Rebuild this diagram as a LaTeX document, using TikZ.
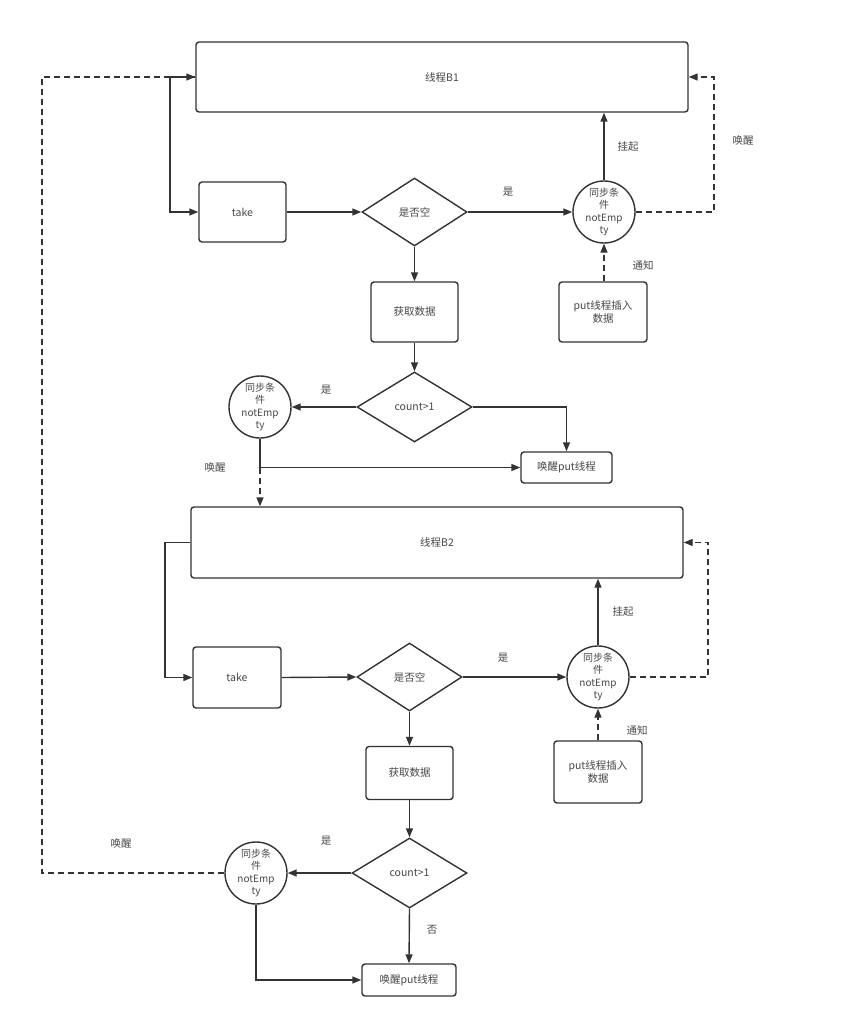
\documentclass[tikz,border=0pt]{standalone}
\usepackage{fontspec}
\setmainfont{Noto Sans CJK SC}
\usetikzlibrary{shapes.geometric,arrows.meta,calc}
\definecolor{ln}{HTML}{333333}
\begin{document}
\begin{tikzpicture}[x=1pt,y=-1pt,
  font=\fontsize{10.5}{12.5}\selectfont,
  every node/.style={text=ln!90},
  box/.style={draw=ln,line width=1.4pt,rounded corners=3pt,inner sep=0pt,fill=white},
  dia/.style={draw=ln,line width=1.4pt,diamond,inner sep=0pt,fill=white},
  cond/.style={draw=ln,line width=1.4pt,circle,minimum size=62pt,inner sep=0pt,align=center,font=\fontsize{10}{12.5}\selectfont},
  conn/.style={draw=ln,line width=1.4pt},
  arr/.style={conn,-{Triangle[length=9pt,width=7pt]}},
  dsh/.style={dash pattern=on 6pt off 4pt},
  lbl/.style={font=\fontsize{10.5}{12.5}\selectfont}
]
\useasboundingbox (0,0) rectangle (840,1024);
% ---------- block 1 ----------
\node[box,minimum width=492pt,minimum height=70pt] (B1) at (442,77) {线程B1};
\node[box,minimum width=87pt,minimum height=60pt] (take1) at (242.5,212) {take};
\node[dia,minimum width=105pt,minimum height=68pt] (d1) at (414.5,212) {是否空};
\node[cond] (c1) at (604,212) {同步条\\件\\notEmp\\ty};
\node[box,minimum width=88pt,minimum height=60pt,align=center] (put1) at (603,312) {put线程插入\\数据};
\node[box,minimum width=87pt,minimum height=60pt] (get1) at (414.5,312) {获取数据};
\node[dia,minimum width=115pt,minimum height=70pt] (cnt1) at (414.5,407) {count>1};
\node[cond] (c2) at (260,407) {同步条\\件\\notEmp\\ty};
\node[box,minimum width=91pt,minimum height=31pt] (wake1) at (566.5,467.5) {唤醒put线程};

\coordinate (l1) at (170,77);
\coordinate (r1) at (714,77);
\draw[arr] (B1.west) -- (l1) |- (take1.west);
\draw[arr] (take1.east) -- (d1.west);
\draw[arr] (d1.east) -- (c1.west);
\node[lbl] (y1) at (508,192) {是};
\draw[arr] (c1.north) -- (c1.north |- B1.south);
\node[lbl] (g1) at (628,147) {挂起};
\draw[arr,dsh] (c1.east) -| (r1) -- (B1.east);
\node[lbl] (w1) at (743,141) {唤醒};
\draw[arr,dsh] (put1.north -| c1) -- (c1.south);
\node[lbl] (t1) at (643,265) {通知};
\draw[arr] (d1.south) -- (get1.north);
\draw[arr] (get1.south) -- (cnt1.north);
\draw[arr] (cnt1.west) -- (c2.east);
\node[lbl] (y2) at (326,390) {是};
\draw[arr] (cnt1.east) -| (wake1.north);
\coordinate (j1) at (c2.south |- wake1.west);
\draw[arr] (c2.south) -- (j1) -- (wake1.west);
\node[lbl] (w2) at (215,467) {唤醒};

% ---------- block 2 ----------
\node[box,minimum width=492pt,minimum height=71pt] (B2) at (437,542.5) {线程B2};
\draw[arr,dsh] (j1) -- (j1 |- B2.north);
\node[box,minimum width=88pt,minimum height=61pt] (take2) at (237,677.5) {take};
\node[dia,minimum width=105pt,minimum height=68pt] (d2) at (409.5,677) {是否空};
\node[cond] (c3) at (598,677) {同步条\\件\\notEmp\\ty};
\node[box,minimum width=88pt,minimum height=62pt,align=center] (put2) at (598,772) {put线程插入\\数据};
\node[box,minimum width=87pt,minimum height=53pt] (get2) at (409.5,773) {获取数据};
\node[dia,minimum width=115pt,minimum height=70pt] (cnt2) at (409.5,873) {count>1};
\node[cond] (c4) at (256,873) {同步条\\件\\notEmp\\ty};
\node[box,minimum width=94pt,minimum height=32pt] (wake2) at (409,980) {唤醒put线程};

\coordinate (l2) at (165,542.5);
\coordinate (r2) at (708,542.5);
\draw[arr] (B2.west) -- (l2) |- (take2.west);
\draw[arr] (take2.east) -- (d2.west);
\draw[arr] (d2.east) -- (c3.west);
\node[lbl] (y3) at (503,658) {是};
\draw[arr] (c3.north) -- (c3.north |- B2.south);
\node[lbl] (g2) at (623,612) {挂起};
\draw[arr,dsh] (c3.east) -| (r2) -- (B2.east);
\draw[arr,dsh] (put2.north -| c3) -- (c3.south);
\node[lbl] (t2) at (637,730) {通知};
\draw[arr] (d2.south) -- (get2.north);
\draw[arr] (get2.south) -- (cnt2.north);
\draw[arr] (cnt2.west) -- (c4.east);
\node[lbl] (y4) at (326,841) {是};
\draw[arr] (cnt2.south) -- (wake2.north);
\node[lbl] (n1) at (432,930) {否};
\draw[arr] (c4.south) |- (wake2.west);
\coordinate (lf) at (42,873);
\coordinate (lt) at (42,77);
\draw[arr,dsh] (c4.west) -- (lf) -- (lt) -- (B1.west);
\node[lbl] (w3) at (121,843) {唤醒};
\end{tikzpicture}
\end{document}
